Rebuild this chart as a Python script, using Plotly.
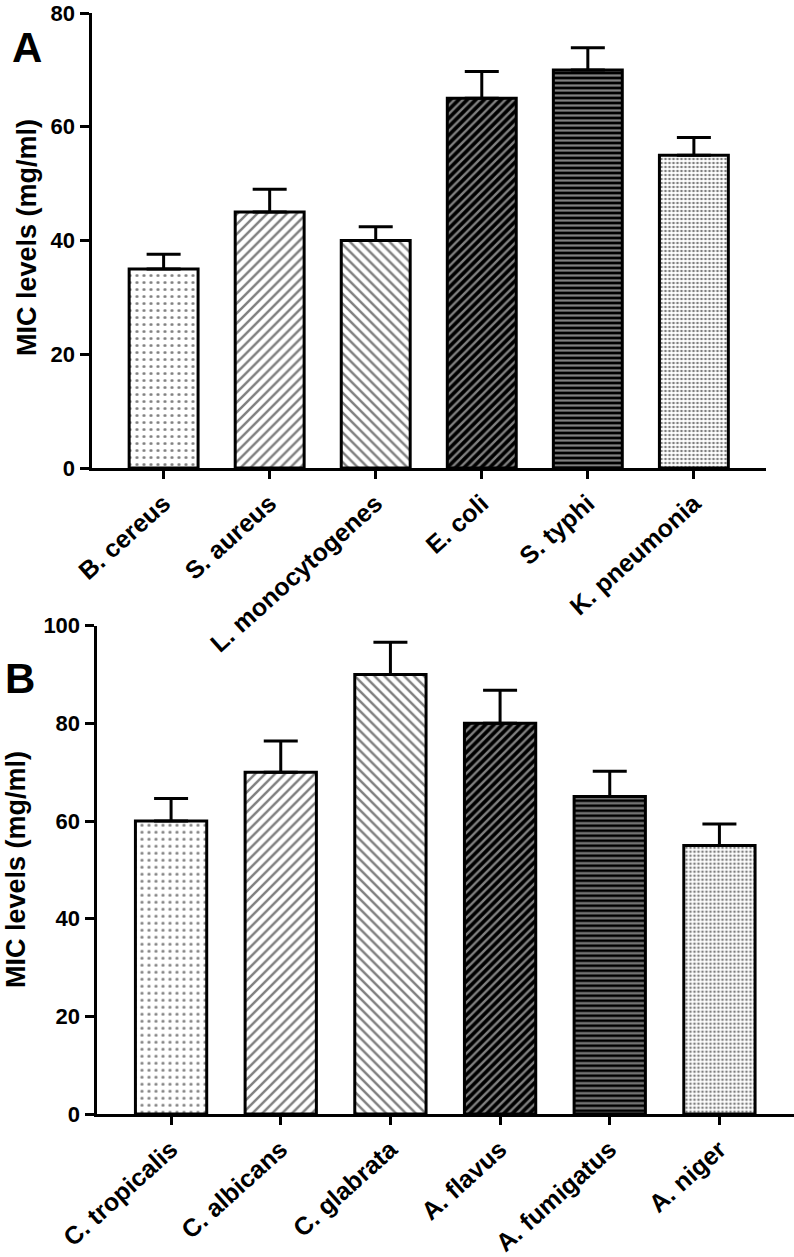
import plotly.graph_objects as go

# ---- data ----
top_categories = ["B. cereus", "S. aureus", "L. monocytogenes", "E. coli", "S. typhi", "K. pneumonia"]
top_values = [35, 45, 40, 65, 70, 55]
top_errors = [2.6, 4.0, 2.4, 4.7, 3.9, 3.1]

bottom_categories = ["C. tropicalis", "C. albicans", "C. glabrata", "A. flavus", "A. fumigatus", "A. niger"]
bottom_values = [60, 70, 90, 80, 65, 55]
bottom_errors = [4.6, 6.4, 6.6, 6.8, 5.2, 4.4]

top_ticks = [0, 20, 40, 60, 80]
bottom_ticks = [0, 20, 40, 60, 80, 100]
y_title = "MIC levels (mg/ml)"

# ---- styles ----
W, H = 794, 1257
FONT = "Liberation Sans, Arial, Helvetica, sans-serif"
pat_shape = [".", "/", "\\", "/", "-", "."]
pat_bg = ["white", "white", "white", "black", "black", "white"]
pat_fg = ["black", "black", "black", "white", "white", "black"]
pat_size = [7, 7, 7, 6, 5, 4]
pat_sol = [0.15, 0.35, 0.35, 0.4, 0.45, 0.35]


def bar_trace(cats, vals, errs, xa, ya):
    return go.Bar(
        x=list(range(len(cats))), y=vals, xaxis=xa, yaxis=ya, width=0.65,
        marker=dict(
            color="white",
            line=dict(color="black", width=3),
            pattern=dict(shape=pat_shape, bgcolor=pat_bg, fgcolor=pat_fg,
                         size=pat_size, solidity=pat_sol, fillmode="overlay"),
        ),
        error_y=dict(type="data", symmetric=False, array=errs,
                     arrayminus=[0] * len(errs), thickness=3, width=17,
                     color="black"),
        showlegend=False, hoverinfo="skip",
    )


fig = go.Figure()
fig.add_trace(bar_trace(top_categories, top_values, top_errors, "x", "y"))
fig.add_trace(bar_trace(bottom_categories, bottom_values, bottom_errors, "x2", "y2"))

tickfont = dict(family=FONT, size=22, color="black", weight="bold")
catfont = dict(family=FONT, size=25, color="black", weight="bold")


def xaxis(dom, cats, anchor):
    return dict(domain=dom, anchor=anchor, range=[-0.68, len(cats) - 1 + 0.68],
                tickmode="array", tickvals=list(range(len(cats))), ticktext=cats,
                tickangle=-42, tickfont=catfont, showline=True, linecolor="black",
                linewidth=3, ticks="outside", ticklen=8, tickwidth=3,
                tickcolor="black", showgrid=False, zeroline=False, automargin=False,
                fixedrange=True, ticklabeloverflow="allow")


def yaxis(dom, ticks, anchor):
    return dict(domain=dom, anchor=anchor, range=[0, ticks[-1]],
                tickmode="array", tickvals=ticks, tickfont=tickfont,
                showline=True, linecolor="black", linewidth=3, ticks="outside",
                ticklen=9, tickwidth=3, tickcolor="black", showgrid=False,
                zeroline=False, automargin=False, fixedrange=True,
                ticklabeloverflow="allow")


fig.update_layout(
    width=W, height=H, margin=dict(l=0, r=0, t=0, b=0),
    paper_bgcolor="white", plot_bgcolor="white", bargap=0.35,
    xaxis=xaxis([91.5 / W, 766 / W], top_categories, "y"),
    yaxis=yaxis([1 - 468 / H, 1 - 13 / H], top_ticks, "x"),
    xaxis2=xaxis([96.5 / W, 1.0], bottom_categories, "y2"),
    yaxis2=yaxis([1 - 1114 / H, 1 - 625.7 / H], bottom_ticks, "x2"),
)

titlefont = dict(family=FONT, size=27, color="black", weight="bold")
fig.add_annotation(text=y_title, xref="paper", yref="paper", x=27 / W,
                   y=1 - 238 / H, textangle=-90, showarrow=False, font=titlefont,
                   xanchor="center", yanchor="middle")
fig.add_annotation(text=y_title, xref="paper", yref="paper", x=16 / W,
                   y=1 - 870 / H, textangle=-90, showarrow=False, font=titlefont,
                   xanchor="center", yanchor="middle")

panelfont = dict(family=FONT, size=42, color="black", weight="bold")
fig.add_annotation(text="A", xref="paper", yref="paper", x=27 / W, y=1 - 47 / H,
                   showarrow=False, font=panelfont, xanchor="center", yanchor="middle")
fig.add_annotation(text="B", xref="paper", yref="paper", x=20 / W, y=1 - 678 / H,
                   showarrow=False, font=panelfont, xanchor="center", yanchor="middle")

fig.write_html("out.html", config={"displayModeBar": False},
               post_script="document.body.style.margin='0px';")
